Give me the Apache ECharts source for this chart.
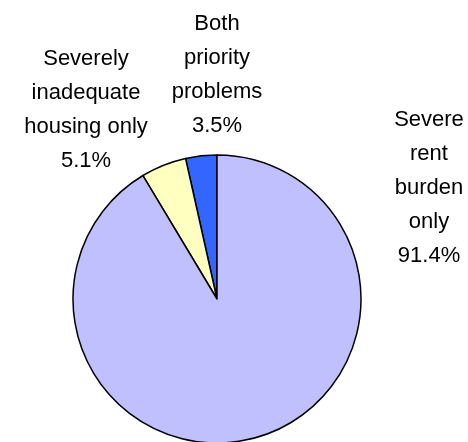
<!DOCTYPE html>
<html>
<head>
<meta charset="utf-8">
<script src="https://cdn.jsdelivr.net/npm/echarts@6/dist/echarts.min.js"></script>
<style>
  html, body { margin: 0; padding: 0; background: #fff; }
  #chart { width: 468px; height: 442px; }
</style>
</head>
<body>
<div id="chart"></div>
<script>
// slices, counter-clockwise from 12 o'clock
const categories = ["Both\npriority\nproblems", "Severely\ninadequate\nhousing only", "Severe\nrent\nburden\nonly"];
const shares = [3.5, 5.1, 91.4];
const colors = ["#3366FF", "#FFFFC0", "#C0C0FF"];

// where each label block sits (centre of the text block)
const labelSpots = [[217, 75], [86, 110], [429, 188]];

const myChart = echarts.init(document.getElementById("chart"));

const option = {
    animation: false,
    series: [
        {
            type: "pie",
            center: [217, 299],
            radius: 144,
            startAngle: 90,
            clockwise: false,
            data: categories.map((name, i) => ({
                name: name,
                value: shares[i],
                itemStyle: { color: colors[i] },
            })),
            itemStyle: {
                borderColor: "#000",
                borderWidth: 1.5,
            },
            label: {
                show: true,
                position: "outside",
                formatter: (p) => p.name + "\n" + p.value.toFixed(1) + "%",
                color: "#000",
                fontFamily: "Liberation Sans, Arial, sans-serif",
                fontSize: 22,
                lineHeight: 34,
                width: 180,
                overflow: "none",
                align: "center",
            },
            labelLine: { show: false },
            labelLayout: (params) => ({
                x: labelSpots[params.dataIndex][0],
                y: labelSpots[params.dataIndex][1],
                align: "center",
                verticalAlign: "middle",
            }),
            emphasis: { disabled: true },
        },
    ],
};

myChart.setOption(option);
</script>
</body>
</html>
